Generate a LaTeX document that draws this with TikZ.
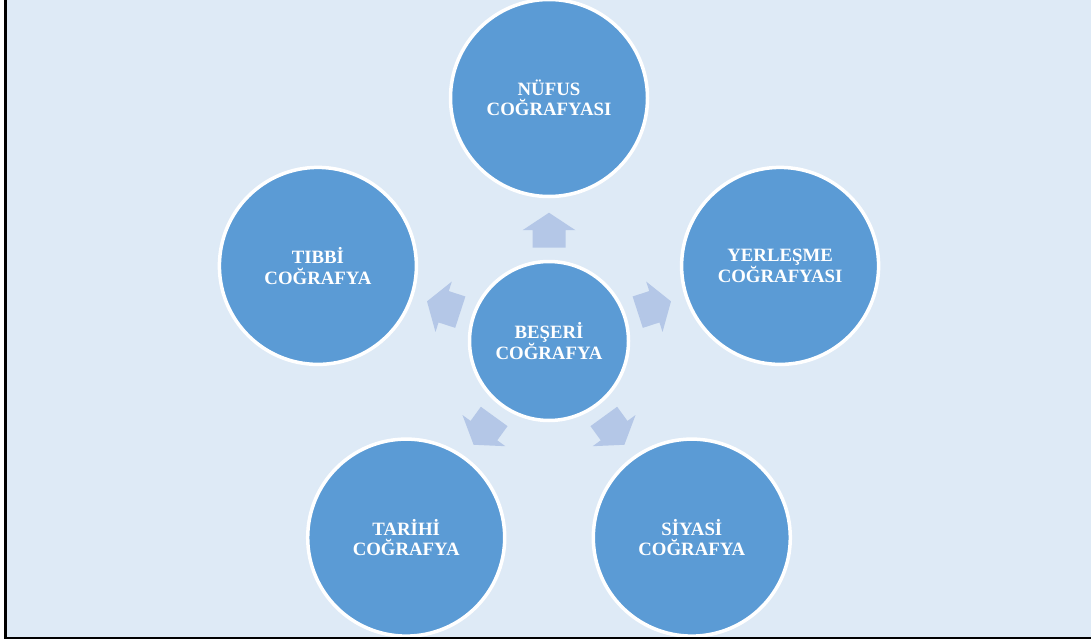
\documentclass[tikz,border=0pt]{standalone}
\usepackage{fontspec}
\setmainfont{Liberation Serif}
\definecolor{panelBlue}{HTML}{DEEAF6}
\definecolor{circleBlue}{HTML}{5B9BD5}
\definecolor{arrowBlue}{HTML}{B4C7E7}
\tikzset{%
  % Specifications for style of nodes:
        base/.style = {circle, draw=white, line width=3.5pt, fill=circleBlue,
                       text=white, align=center, inner sep=0pt,
                       font=\bfseries\fontsize{18.8}{20.5}\selectfont},
        main/.style = {base, minimum size=159pt},
      branch/.style = {base, minimum size=197pt},
  blockArrow/.style = {fill=arrowBlue},
}

\begin{document}
\begin{tikzpicture}[x=1pt, y=1pt]
  \useasboundingbox (0,0) rectangle (1091,641);
  \fill[panelBlue] (5.5,3) rectangle (1091,641);

  % Specification of nodes (position, etc.)
  \node (beseri) [main] at (549,300) {BEŞERİ\\COĞRAFYA};
  \node (nufus) [branch] at (549,543) {NÜFUS\\COĞRAFYASI};
  \node (yerlesme) [branch] at (780.1,375.1) {YERLEŞME\\COĞRAFYASI};
  \node (siyasi) [branch] at (691.8,103.4) {SİYASİ\\COĞRAFYA};
  \node (tarihi) [branch] at (406.2,103.4) {TARİHİ\\COĞRAFYA};
  \node (tibbi) [branch] at (317.9,375.1) {TIBBİ\\COĞRAFYA};

  % Block arrows between the centre and each branch
  \foreach \target/\angle in {nufus/90, yerlesme/18, siyasi/-54,
                              tarihi/-126, tibbi/162} {
    \path (beseri) -- (\target) coordinate[pos=0.48] (m-\target);
    \fill[blockArrow, shift={(m-\target)}, rotate=\angle]
      (-17.5,-16.5) -- (0,-16.5) -- (0,-26.5) -- (17.5,0)
      -- (0,26.5) -- (0,16.5) -- (-17.5,16.5) -- cycle;
  }

  % frame
  \draw[black, line width=2.5pt] (5.5,641) -- (5.5,3) -- (1091,3);
\end{tikzpicture}
\end{document}
